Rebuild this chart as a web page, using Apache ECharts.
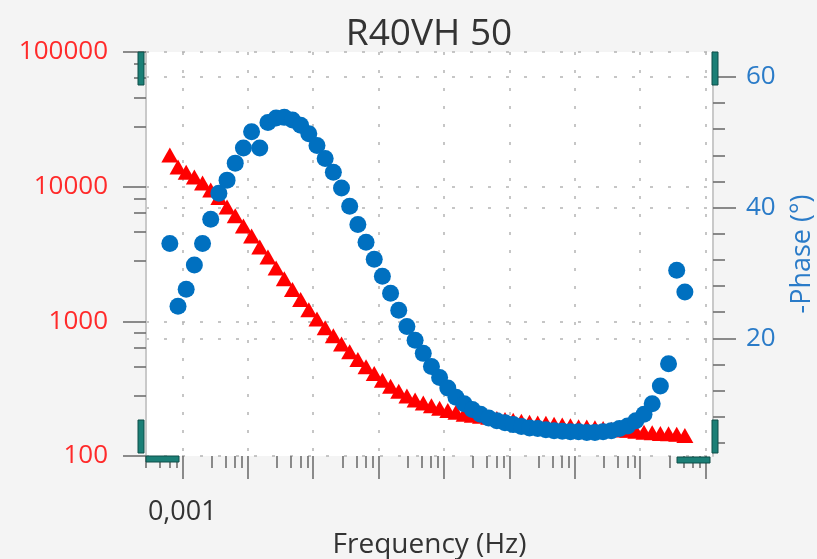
<!DOCTYPE html>
<html><head><meta charset="utf-8">
<script src="https://cdn.jsdelivr.net/npm/echarts@6/dist/echarts.min.js"></script>
<style>html,body{margin:0;padding:0;background:#f4f4f4}#c{width:817px;height:559px}</style>
</head><body><div id="c"></div><script>
// Frequency sweep (Hz), 8 points per decade
const frequencyHz = [
  0.0006457, 0.000861, 0.001148, 0.001531, 0.002042, 0.002723, 0.003631, 0.004842,
  0.006457, 0.00861, 0.01148, 0.01531, 0.02042, 0.02723, 0.03631, 0.04842,
  0.06457, 0.0861, 0.1148, 0.1531, 0.2042, 0.2723, 0.3631, 0.4842,
  0.6457, 0.861, 1.148, 1.531, 2.042, 2.723, 3.631, 4.842,
  6.457, 8.61, 11.48, 15.31, 20.42, 27.23, 36.31, 48.42,
  64.57, 86.1, 114.8, 153.1, 204.2, 272.3, 363.1, 484.2,
  645.7, 861, 1148, 1531, 2042, 2723, 3631, 4842,
  6457, 8610, 11480, 15310, 20420, 27230, 36310, 48420
];
// |Z| (left axis, log)
const impedance = [
  17200, 14000, 12800, 11800, 10650, 9450, 8300, 7070, 6070, 5100,
  4300, 3570, 3000, 2490, 2070, 1720, 1450, 1220, 1040, 895,
  780, 680, 595, 520, 460, 410, 365, 330, 303, 279,
  260, 248, 236, 226, 218, 211, 204, 201, 197, 194,
  190, 187, 184, 181, 178, 176, 175, 172, 170, 168,
  165, 164, 162, 160, 158, 156, 155, 153, 150, 149,
  147, 146, 145, 142
];
// -Phase in degrees (right axis)
const phase = [
  34.5, 24.9, 27.5, 31.2, 34.5, 38.2, 42.2, 44.2, 46.8, 49.1,
  51.6, 49.1, 53.0, 53.7, 53.8, 53.4, 52.6, 51.3, 49.5, 47.5,
  45.4, 43.0, 40.2, 37.4, 34.7, 32.1, 29.5, 26.9, 24.3, 21.8,
  19.7, 17.7, 15.7, 14.0, 12.4, 11.0, 10.0, 9.1, 8.4, 7.8,
  7.4, 7.1, 6.8, 6.5, 6.3, 6.2, 6.0, 5.85, 5.8, 5.7,
  5.7, 5.6, 5.6, 5.7, 5.85, 6.2, 6.6, 7.4, 8.4, 10.0,
  12.7, 16.1, 30.4, 27.1
];
const xTicks = [0.001, 0.01, 0.1, 1, 10, 100, 1000, 10000, 100000];
const xLabelValues = [0.001];
const leftTicks = [100, 1000, 10000, 100000];
const rightTicks = [20, 40, 60];

const FONT = 'Open Sans';
const tickStyle = { color: '#6f6f6f', width: 1.6 };
const gridLine = { show: true, lineStyle: { color: '#b4b4b4', width: 1.5, type: [3, 15] } };
const teal = { fill: '#1b7f76', stroke: '#0f4e48', lineWidth: 1 };

const chart = echarts.init(document.getElementById('c'), null, { renderer: 'canvas' });
chart.setOption({
  backgroundColor: '#f4f4f4',
  animation: false,
  title: {
    text: 'R40VH 50', left: 424, top: 11, textAlign: 'center',
    textStyle: { fontFamily: FONT, fontSize: 37, fontWeight: 'normal', color: '#333333' }
  },
  grid: {
    left: 146, right: 104, top: 52, bottom: 103,
    containLabel: false, outerBoundsMode: 'none',
    show: true, backgroundColor: '#ffffff', borderWidth: 0
  },
  xAxis: {
    type: 'log', min: 0.000279, max: 130300,
    name: 'Frequency (Hz)', nameLocation: 'middle', nameGap: 61,
    nameTextStyle: { fontFamily: FONT, fontSize: 28, color: '#333333' },
    axisLine: { show: false },
    axisTick: { show: true, length: 23, customValues: xTicks, lineStyle: tickStyle },
    minorTick: { show: true, splitNumber: 5, length: 12, lineStyle: tickStyle },
    axisLabel: {
      customValues: xLabelValues, margin: 43,
      fontFamily: FONT, fontSize: 27, color: '#333333',
      formatter: v => (Math.abs(Math.log10(v) + 3) < 1e-6 ? '0,001' : '')
    },
    splitLine: gridLine
  },
  yAxis: [
    {
      type: 'log', min: 100, max: 100000, position: 'left',
      axisLine: { show: true, lineStyle: { color: '#c9c9c9', width: 2 } },
      axisTick: { show: true, length: 23, customValues: leftTicks, lineStyle: tickStyle },
      minorTick: { show: true, splitNumber: 5, length: 12, lineStyle: tickStyle },
      axisLabel: {
        customValues: leftTicks, margin: 38,
        fontFamily: FONT, fontSize: 26, color: '#ff2a2a',
        formatter: v => String(Math.round(v))
      },
      splitLine: gridLine
    },
    {
      type: 'value', min: 2, max: 63.8, position: 'right', splitNumber: 3,
      name: '-Phase (°)', nameLocation: 'middle', nameGap: 76, nameRotate: 90,
      nameTextStyle: { fontFamily: FONT, fontSize: 27, color: '#2a7bc8' },
      axisLine: { show: true, lineStyle: { color: '#c9c9c9', width: 2 } },
      axisTick: { show: true, length: 23, customValues: rightTicks, lineStyle: tickStyle },
      minorTick: { show: true, splitNumber: 5, length: 12, lineStyle: tickStyle },
      axisLabel: {
        customValues: rightTicks, margin: 33,
        fontFamily: FONT, fontSize: 26, color: '#2a7bc8'
      },
      splitLine: gridLine
    }
  ],
  graphic: [
    { type: 'rect', shape: { x: 138, y: 52, width: 6, height: 33 }, style: teal, z: 100 },
    { type: 'rect', shape: { x: 138, y: 420, width: 6, height: 33 }, style: teal, z: 100 },
    { type: 'rect', shape: { x: 146, y: 456, width: 33, height: 6 }, style: teal, z: 100 },
    { type: 'rect', shape: { x: 677, y: 457, width: 33, height: 6 }, style: teal, z: 100 },
    { type: 'rect', shape: { x: 712, y: 52, width: 6, height: 33 }, style: teal, z: 100 },
    { type: 'rect', shape: { x: 712, y: 420, width: 6, height: 33 }, style: teal, z: 100 }
  ],
  series: [
    {
      name: '|Z|', type: 'scatter', yAxisIndex: 0,
      symbol: 'triangle', symbolSize: [17, 15],
      itemStyle: { color: '#ff0000', opacity: 1 },
      data: frequencyHz.map((f, i) => [f, impedance[i]])
    },
    {
      name: '-Phase', type: 'scatter', yAxisIndex: 1,
      symbol: 'circle', symbolSize: 17,
      itemStyle: { color: '#0070c0', opacity: 1 },
      data: frequencyHz.map((f, i) => [f, phase[i]])
    }
  ]
});
</script></body></html>
